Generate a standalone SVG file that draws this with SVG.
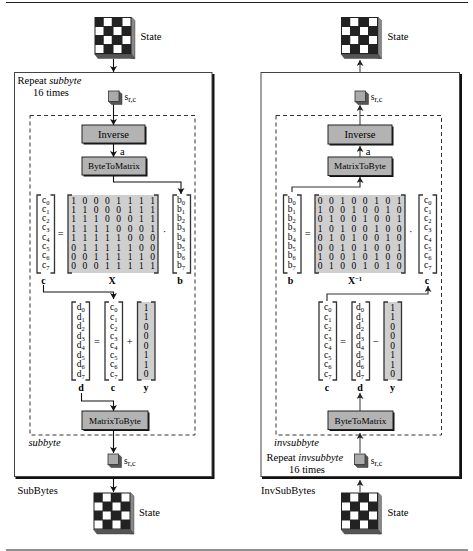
<svg xmlns="http://www.w3.org/2000/svg" width="473" height="551" viewBox="0 0 473 551">
<style>
text{font-family:"Liberation Serif","Times New Roman",serif;fill:#000;font-size:10.5px}
.m{font-size:9.5px;text-anchor:middle}
.v{font-size:9.5px}
.sub{font-size:6.5px}
.srl{font-size:9.5px}
.srs{font-size:8px}
.bf{font-weight:bold;font-size:10px;text-anchor:middle}
.bt{font-size:9.2px;text-anchor:middle}
.ct{text-anchor:middle}
.box{fill:#b3b3b3;stroke:#222;stroke-width:1}
.shadow{fill:#111}
.brk{fill:none;stroke:#333;stroke-width:1.3}
.grey{fill:#cfcfcf}
.outer{fill:#fff;stroke:#444;stroke-width:1}
.dash{fill:none;stroke:#333;stroke-width:1;stroke-dasharray:4 3}
.cl{fill:none;stroke:#111;stroke-width:1.1;marker-end:url(#al)}
.cr{fill:none;stroke:#555;stroke-width:1.2;marker-end:url(#ar)}
.rule{stroke:#222;stroke-width:1}
.k{fill:#222}
.w{fill:#fff}
.sf{fill:#888;stroke:#333;stroke-width:.4}
.bf2{fill:#555;stroke:#333;stroke-width:.4}
.cube1{fill:#aaa;stroke:#333;stroke-width:.8}
.cube2{fill:#555;stroke:#333;stroke-width:.5}
</style>
<defs>
<marker id="al" markerUnits="userSpaceOnUse" markerWidth="8" markerHeight="8" refX="6" refY="3.5" orient="auto"><path d="M0,0L6,3.5L0,7L1.4,3.5Z" fill="#111"/></marker>
<marker id="ar" markerUnits="userSpaceOnUse" markerWidth="8" markerHeight="8" refX="6" refY="3.5" orient="auto"><path d="M0,0L6,3.5L0,7L1.4,3.5Z" fill="#222"/></marker>
<g id="state"><path class="sf" d="M37,0L40.5,3.5V41.5H37Z"/><path class="bf2" d="M0,37H37L40.5,41.5H3.5Z"/><rect class="k" width="37" height="37"/><rect class="w" x="9.25" y="1" width="8" height="8"/><rect class="w" x="28" y="1" width="8" height="8"/><rect class="w" x="1" y="10" width="8" height="8"/><rect class="w" x="19" y="10" width="8" height="8"/><rect class="w" x="9.25" y="19" width="8" height="8"/><rect class="w" x="28" y="19" width="8" height="8"/><rect class="w" x="1" y="28" width="8" height="8"/><rect class="w" x="19" y="28" width="8" height="8"/></g>
<g id="cube"><path class="cube2" d="M10,0L13.5,3V13.5H3L0,10.5Z"/><rect class="cube1" width="10.5" height="10.5"/></g>
<path id="brk" class="brk" d="M4,0H0V78H4M13.5,0H17.5V78H13.5"/>
</defs>
<g id="rules"><line class="rule" x1="6" y1="2.5" x2="468" y2="2.5"/><line class="rule" x1="6" y1="550" x2="468" y2="550"/></g>

<g id="subbytes-box"><rect class="shadow" x="15.5" y="74" width="199" height="405"/><rect class="outer" x="14.5" y="72.5" width="197.5" height="404"/><text x="17.5" y="84">Repeat <tspan font-style="italic">subbyte</tspan></text><text x="33" y="96">16 times</text><text x="17.5" y="494">SubBytes</text></g>
<g id="invsubbytes-box"><rect class="shadow" x="262" y="74" width="200" height="405"/><rect class="outer" x="261" y="72.5" width="198.5" height="404"/><text x="266.5" y="461">Repeat <tspan font-style="italic">invsubbyte</tspan></text><text x="289" y="473">16 times</text><text x="261" y="494">InvSubBytes</text></g>
<g id="subbyte-frame"><rect class="dash" x="30" y="115.5" width="165" height="319.5"/><text x="28.5" y="446" font-style="italic">subbyte</text></g>
<g id="invsubbyte-frame"><rect class="dash" x="276" y="115.5" width="165.5" height="319.5"/><text x="274" y="446" font-style="italic">invsubbyte</text></g>

<g id="connectors">
<path class="cl" d="M113.5,59V72"/>
<path class="cl" d="M113.5,104V125"/>
<path class="cl" d="M113.5,143V157"/>
<path class="cl" d="M113.5,175V182H181V194"/>
<path class="cl" d="M43.5,285V292H113.5V299"/>
<path class="cl" d="M81.5,393V401H113.5V411"/>
<path class="cl" d="M113.5,430V453"/>
<path class="cl" d="M113.5,479V492"/>
<path class="cr" d="M360,72V60"/>
<path class="cr" d="M360,125V105"/>
<path class="cr" d="M360,157V146"/>
<path class="cr" d="M292,192V187H360V177" style="stroke:#333"/>
<path class="cr" d="M327,301V294H428V286" style="stroke:#333"/>
<path class="cr" d="M360,411V393"/>
<path class="cr" d="M360,453V433"/>
<path class="cr" d="M360,492V480"/>
</g>

<g id="state-top-left"><use href="#state" x="94.5" y="17"/><text x="140.5" y="40">State</text></g>
<g id="state-bottom-left"><use href="#state" x="93.5" y="492.5"/><text x="139" y="516">State</text></g>
<g id="state-top-right"><use href="#state" x="341" y="17"/><text x="387.5" y="40">State</text></g>
<g id="state-bottom-right"><use href="#state" x="341" y="492.5"/><text x="387.5" y="516">State</text></g>

<g id="src-left-top"><use href="#cube" x="108.5" y="91"/><text x="124.5" y="99.5" class="srl">s<tspan class="srs" dy="2">r,c</tspan></text></g>
<g id="src-left-bottom"><use href="#cube" x="108" y="454"/><text x="124" y="463.5" class="srl">s<tspan class="srs" dy="2">r,c</tspan></text></g>
<g id="src-right-top"><use href="#cube" x="355" y="91"/><text x="370.7" y="99.5" class="srl">s<tspan class="srs" dy="2">r,c</tspan></text></g>
<g id="src-right-bottom"><use href="#cube" x="354.5" y="454"/><text x="370.7" y="463.5" class="srl">s<tspan class="srs" dy="2">r,c</tspan></text></g>

<g id="inverse-left"><rect class="shadow" x="83.5" y="126.5" width="63" height="18"/><rect class="box" x="82" y="125" width="63" height="18"/><text class="ct" x="113.5" y="137.5">Inverse</text><text x="120" y="155">a</text></g>
<g id="bytetomatrix-left"><rect class="shadow" x="83.5" y="158.5" width="64" height="18"/><rect class="box" x="82" y="157" width="64" height="18"/><text class="bt" x="114" y="169">ByteToMatrix</text></g>
<g id="matrixtobyte-left"><rect class="shadow" x="83.5" y="412.5" width="66" height="18.5"/><rect class="box" x="82" y="411" width="66" height="18.5"/><text class="bt" x="115" y="423.5">MatrixToByte</text></g>
<g id="inverse-right"><rect class="shadow" x="329.5" y="126.5" width="64" height="19"/><rect class="box" x="328" y="125" width="64" height="19"/><text class="ct" x="360" y="137.5">Inverse</text><text x="365.7" y="155">a</text></g>
<g id="matrixtobyte-right"><rect class="shadow" x="329.5" y="158.5" width="64" height="18.5"/><rect class="box" x="328" y="157" width="64" height="18.5"/><text class="bt" x="360" y="169">MatrixToByte</text></g>
<g id="bytetomatrix-right"><rect class="shadow" x="329.5" y="412.5" width="65" height="18.5"/><rect class="box" x="328" y="411" width="65" height="18.5"/><text class="bt" x="360.5" y="423.5">ByteToMatrix</text></g>

<g id="matrix-x">
<rect class="grey" x="68" y="195" width="90" height="78"/>
<path class="brk" d="M72,195H68V273H72M154,195H158V273H154"/>
<text class="m" y="203.5" x="73.5 84.8 96.1 107.4 118.7 130 141.3 152.6">10001111</text>
<text class="m" y="212.9" x="73.5 84.8 96.1 107.4 118.7 130 141.3 152.6">11000111</text>
<text class="m" y="222.3" x="73.5 84.8 96.1 107.4 118.7 130 141.3 152.6">11100011</text>
<text class="m" y="231.7" x="73.5 84.8 96.1 107.4 118.7 130 141.3 152.6">11110001</text>
<text class="m" y="241.1" x="73.5 84.8 96.1 107.4 118.7 130 141.3 152.6">11111000</text>
<text class="m" y="250.5" x="73.5 84.8 96.1 107.4 118.7 130 141.3 152.6">01111100</text>
<text class="m" y="259.9" x="73.5 84.8 96.1 107.4 118.7 130 141.3 152.6">00111110</text>
<text class="m" y="269.3" x="73.5 84.8 96.1 107.4 118.7 130 141.3 152.6">00011111</text>
<text class="bf" x="112" y="283.5">X</text>
</g>
<g id="vector-c-left">
<use href="#brk" x="37" y="195"/>
<text class="v" x="42" y="202.5">c<tspan class="sub" dy="2">0</tspan></text>
<text class="v" x="42" y="211.8">c<tspan class="sub" dy="2">1</tspan></text>
<text class="v" x="42" y="221.1">c<tspan class="sub" dy="2">2</tspan></text>
<text class="v" x="42" y="230.4">c<tspan class="sub" dy="2">3</tspan></text>
<text class="v" x="42" y="239.7">c<tspan class="sub" dy="2">4</tspan></text>
<text class="v" x="42" y="249">c<tspan class="sub" dy="2">5</tspan></text>
<text class="v" x="42" y="258.3">c<tspan class="sub" dy="2">6</tspan></text>
<text class="v" x="42" y="267.6">c<tspan class="sub" dy="2">7</tspan></text>
<text class="bf" x="43.5" y="283.5">c</text>
<text class="ct" x="60.7" y="237">=</text>
</g>
<g id="vector-b-left">
<use href="#brk" x="173" y="195"/>
<text class="v" x="177" y="202.5">b<tspan class="sub" dy="2">0</tspan></text>
<text class="v" x="177" y="211.8">b<tspan class="sub" dy="2">1</tspan></text>
<text class="v" x="177" y="221.1">b<tspan class="sub" dy="2">2</tspan></text>
<text class="v" x="177" y="230.4">b<tspan class="sub" dy="2">3</tspan></text>
<text class="v" x="177" y="239.7">b<tspan class="sub" dy="2">4</tspan></text>
<text class="v" x="177" y="249">b<tspan class="sub" dy="2">5</tspan></text>
<text class="v" x="177" y="258.3">b<tspan class="sub" dy="2">6</tspan></text>
<text class="v" x="177" y="267.6">b<tspan class="sub" dy="2">7</tspan></text>
<text class="bf" x="180" y="283.5">b</text>
<text class="ct" x="164.5" y="235">·</text>
</g>
<g id="vector-d-left">
<use href="#brk" x="72" y="302"/>
<text class="v" x="76.7" y="310">d<tspan class="sub" dy="2">0</tspan></text>
<text class="v" x="76.7" y="319.5">d<tspan class="sub" dy="2">1</tspan></text>
<text class="v" x="76.7" y="329">d<tspan class="sub" dy="2">2</tspan></text>
<text class="v" x="76.7" y="338.5">d<tspan class="sub" dy="2">3</tspan></text>
<text class="v" x="76.7" y="348">d<tspan class="sub" dy="2">4</tspan></text>
<text class="v" x="76.7" y="357.5">d<tspan class="sub" dy="2">5</tspan></text>
<text class="v" x="76.7" y="367">d<tspan class="sub" dy="2">6</tspan></text>
<text class="v" x="76.7" y="376.5">d<tspan class="sub" dy="2">7</tspan></text>
<text class="bf" x="81" y="390.5">d</text>
<text class="ct" x="97" y="344.5">=</text>
</g>
<g id="vector-c2-left">
<use href="#brk" x="105" y="302"/>
<text class="v" x="110" y="310">c<tspan class="sub" dy="2">0</tspan></text>
<text class="v" x="110" y="319.5">c<tspan class="sub" dy="2">1</tspan></text>
<text class="v" x="110" y="329">c<tspan class="sub" dy="2">2</tspan></text>
<text class="v" x="110" y="338.5">c<tspan class="sub" dy="2">3</tspan></text>
<text class="v" x="110" y="348">c<tspan class="sub" dy="2">4</tspan></text>
<text class="v" x="110" y="357.5">c<tspan class="sub" dy="2">5</tspan></text>
<text class="v" x="110" y="367">c<tspan class="sub" dy="2">6</tspan></text>
<text class="v" x="110" y="376.5">c<tspan class="sub" dy="2">7</tspan></text>
<text class="bf" x="113" y="390.5">c</text>
<text class="ct" x="129.7" y="344.5">+</text>
</g>
<g id="vector-y-left">
<rect class="grey" x="137.5" y="302" width="17.5" height="78"/>
<use href="#brk" x="137.5" y="302"/>
<text class="m" x="146" y="310.5">1</text>
<text class="m" x="146" y="320">1</text>
<text class="m" x="146" y="329.5">0</text>
<text class="m" x="146" y="339">0</text>
<text class="m" x="146" y="348.5">0</text>
<text class="m" x="146" y="358">1</text>
<text class="m" x="146" y="367.5">1</text>
<text class="m" x="146" y="377">0</text>
<text class="bf" x="146" y="390.5">y</text>
</g>

<g id="matrix-x-inv">
<rect class="grey" x="315" y="195" width="90" height="78"/>
<path class="brk" d="M319,195H315V273H319M401,195H405V273H401"/>
<text class="m" y="203.5" x="320 331.3 342.6 353.9 365.2 376.5 387.8 399.1">00100101</text>
<text class="m" y="212.9" x="320 331.3 342.6 353.9 365.2 376.5 387.8 399.1">10010010</text>
<text class="m" y="222.3" x="320 331.3 342.6 353.9 365.2 376.5 387.8 399.1">01001001</text>
<text class="m" y="231.7" x="320 331.3 342.6 353.9 365.2 376.5 387.8 399.1">10100100</text>
<text class="m" y="241.1" x="320 331.3 342.6 353.9 365.2 376.5 387.8 399.1">01010010</text>
<text class="m" y="250.5" x="320 331.3 342.6 353.9 365.2 376.5 387.8 399.1">00101001</text>
<text class="m" y="259.9" x="320 331.3 342.6 353.9 365.2 376.5 387.8 399.1">10010100</text>
<text class="m" y="269.3" x="320 331.3 342.6 353.9 365.2 376.5 387.8 399.1">01001010</text>
<text class="bf" x="355" y="283.5">X<tspan font-size="6.5" dy="-3">−1</tspan></text>
</g>
<g id="vector-b-right">
<use href="#brk" x="283.5" y="195"/>
<text class="v" x="287.7" y="202.5">b<tspan class="sub" dy="2">0</tspan></text>
<text class="v" x="287.7" y="211.8">b<tspan class="sub" dy="2">1</tspan></text>
<text class="v" x="287.7" y="221.1">b<tspan class="sub" dy="2">2</tspan></text>
<text class="v" x="287.7" y="230.4">b<tspan class="sub" dy="2">3</tspan></text>
<text class="v" x="287.7" y="239.7">b<tspan class="sub" dy="2">4</tspan></text>
<text class="v" x="287.7" y="249">b<tspan class="sub" dy="2">5</tspan></text>
<text class="v" x="287.7" y="258.3">b<tspan class="sub" dy="2">6</tspan></text>
<text class="v" x="287.7" y="267.6">b<tspan class="sub" dy="2">7</tspan></text>
<text class="bf" x="290.5" y="283.5">b</text>
<text class="ct" x="307.7" y="237">=</text>
</g>
<g id="vector-c-right">
<use href="#brk" x="419" y="195"/>
<text class="v" x="424" y="202.5">c<tspan class="sub" dy="2">0</tspan></text>
<text class="v" x="424" y="211.8">c<tspan class="sub" dy="2">1</tspan></text>
<text class="v" x="424" y="221.1">c<tspan class="sub" dy="2">2</tspan></text>
<text class="v" x="424" y="230.4">c<tspan class="sub" dy="2">3</tspan></text>
<text class="v" x="424" y="239.7">c<tspan class="sub" dy="2">4</tspan></text>
<text class="v" x="424" y="249">c<tspan class="sub" dy="2">5</tspan></text>
<text class="v" x="424" y="258.3">c<tspan class="sub" dy="2">6</tspan></text>
<text class="v" x="424" y="267.6">c<tspan class="sub" dy="2">7</tspan></text>
<text class="bf" x="427" y="283.5">c</text>
<text class="ct" x="410.7" y="235">·</text>
</g>
<g id="vector-c2-right">
<use href="#brk" x="319" y="302"/>
<text class="v" x="324" y="310">c<tspan class="sub" dy="2">0</tspan></text>
<text class="v" x="324" y="319.5">c<tspan class="sub" dy="2">1</tspan></text>
<text class="v" x="324" y="329">c<tspan class="sub" dy="2">2</tspan></text>
<text class="v" x="324" y="338.5">c<tspan class="sub" dy="2">3</tspan></text>
<text class="v" x="324" y="348">c<tspan class="sub" dy="2">4</tspan></text>
<text class="v" x="324" y="357.5">c<tspan class="sub" dy="2">5</tspan></text>
<text class="v" x="324" y="367">c<tspan class="sub" dy="2">6</tspan></text>
<text class="v" x="324" y="376.5">c<tspan class="sub" dy="2">7</tspan></text>
<text class="bf" x="327" y="390.5">c</text>
<text class="ct" x="343" y="344.5">=</text>
</g>
<g id="vector-d-right">
<use href="#brk" x="352" y="302"/>
<text class="v" x="356" y="310">d<tspan class="sub" dy="2">0</tspan></text>
<text class="v" x="356" y="319.5">d<tspan class="sub" dy="2">1</tspan></text>
<text class="v" x="356" y="329">d<tspan class="sub" dy="2">2</tspan></text>
<text class="v" x="356" y="338.5">d<tspan class="sub" dy="2">3</tspan></text>
<text class="v" x="356" y="348">d<tspan class="sub" dy="2">4</tspan></text>
<text class="v" x="356" y="357.5">d<tspan class="sub" dy="2">5</tspan></text>
<text class="v" x="356" y="367">d<tspan class="sub" dy="2">6</tspan></text>
<text class="v" x="356" y="376.5">d<tspan class="sub" dy="2">7</tspan></text>
<text class="bf" x="360" y="390.5">d</text>
<text class="ct" x="376" y="344.5">−</text>
</g>
<g id="vector-y-right">
<rect class="grey" x="384" y="302" width="17.5" height="78"/>
<use href="#brk" x="384" y="302"/>
<text class="m" x="392.5" y="310.5">1</text>
<text class="m" x="392.5" y="320">1</text>
<text class="m" x="392.5" y="329.5">0</text>
<text class="m" x="392.5" y="339">0</text>
<text class="m" x="392.5" y="348.5">0</text>
<text class="m" x="392.5" y="358">1</text>
<text class="m" x="392.5" y="367.5">1</text>
<text class="m" x="392.5" y="377">0</text>
<text class="bf" x="392.5" y="390.5">y</text>
</g>
</svg>
